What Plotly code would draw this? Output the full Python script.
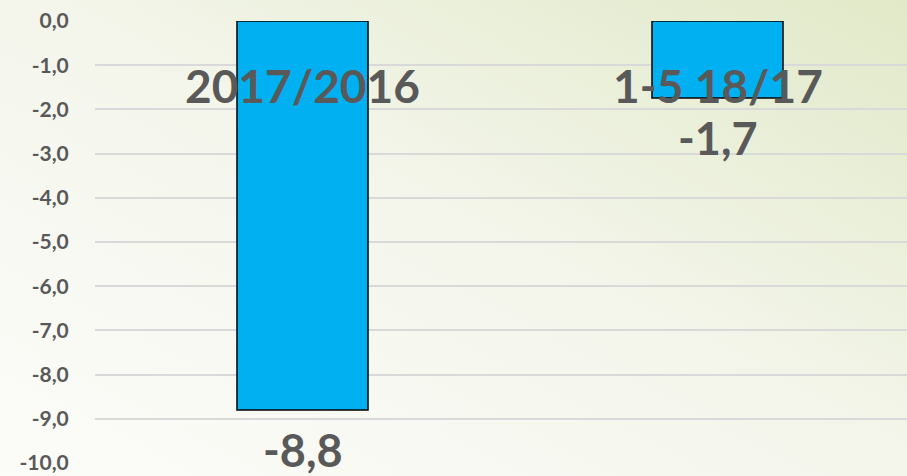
import base64
import plotly.graph_objects as go

categories = ["2017/2016", "1-5 18/17"]
values = [-8.8, -1.74]
value_labels = ["-8,8", "-1,7"]
y_ticks = [0, -1, -2, -3, -4, -5, -6, -7, -8, -9, -10]
y_tick_labels = ["0,0", "-1,0", "-2,0", "-3,0", "-4,0", "-5,0", "-6,0", "-7,0", "-8,0", "-9,0", "-10,0"]

W, H = 907, 476
ML, MR, MT, MB = 95, 0, 21, 13
pw, ph = W - ML - MR, H - MT - MB

svg = f'''<svg xmlns="http://www.w3.org/2000/svg" width="{W}" height="{H}" viewBox="0 0 {W} {H}" preserveAspectRatio="none">
<defs><linearGradient id="g" x1="0" y1="1" x2="1" y2="0">
<stop offset="0" stop-color="#FCFCF9"/><stop offset="0.5" stop-color="#F4F6EC"/><stop offset="1" stop-color="#E1E9C8"/>
</linearGradient></defs><rect width="{W}" height="{H}" fill="url(#g)"/></svg>'''
bg_uri = "data:image/svg+xml;base64," + base64.b64encode(svg.encode()).decode()

font_family = "Lato, 'Open Sans', sans-serif"
text_color = "#595959"

fig = go.Figure()
fig.add_trace(go.Bar(
    x=categories, y=values,
    width=0.3157,
    marker=dict(color="#00B0F0", line=dict(color="#000000", width=1.5)),
    hoverinfo="skip",
))

annotations = []
for c in categories:
    annotations.append(dict(x=c, y=0, xref="x", yref="y", text=f"<b>{c}</b>", showarrow=False,
                            yanchor="middle", yshift=-64,
                            font=dict(family=font_family, size=46, color=text_color)))
for c, v, t in zip(categories, values, value_labels):
    annotations.append(dict(x=c, y=v, xref="x", yref="y", text=f"<b>{t}</b>", showarrow=False,
                            yanchor="middle", yshift=-40,
                            font=dict(family=font_family, size=45, color=text_color)))

fig.update_layout(
    width=W, height=H,
    margin=dict(l=ML, r=MR, t=MT, b=MB, pad=0),
    paper_bgcolor="#F7F8F0",
    plot_bgcolor="rgba(0,0,0,0)",
    showlegend=False,
    images=[dict(source=bg_uri, xref="paper", yref="paper",
                 x=-ML / pw, y=1 + MT / ph, sizex=W / pw, sizey=H / ph,
                 xanchor="left", yanchor="top", sizing="stretch", layer="below")],
    xaxis=dict(range=[-0.5, -0.5 + pw / 415], showticklabels=False, showgrid=False,
               zeroline=False, showline=False, ticks=""),
    yaxis=dict(range=[-10, 0], tickvals=y_ticks, ticktext=[f"<b>{t}</b>" for t in y_tick_labels],
               showgrid=True, gridcolor="#D9D9D9", gridwidth=2,
               zeroline=False, showline=False,
               ticks="outside", ticklen=21, tickcolor="rgba(0,0,0,0)",
               tickfont=dict(family=font_family, size=21, color=text_color)),
    annotations=annotations,
)

fig.write_html("out.html", config={"displayModeBar": False},
               post_script="document.body.style.margin='0';document.body.style.overflow='hidden';")
